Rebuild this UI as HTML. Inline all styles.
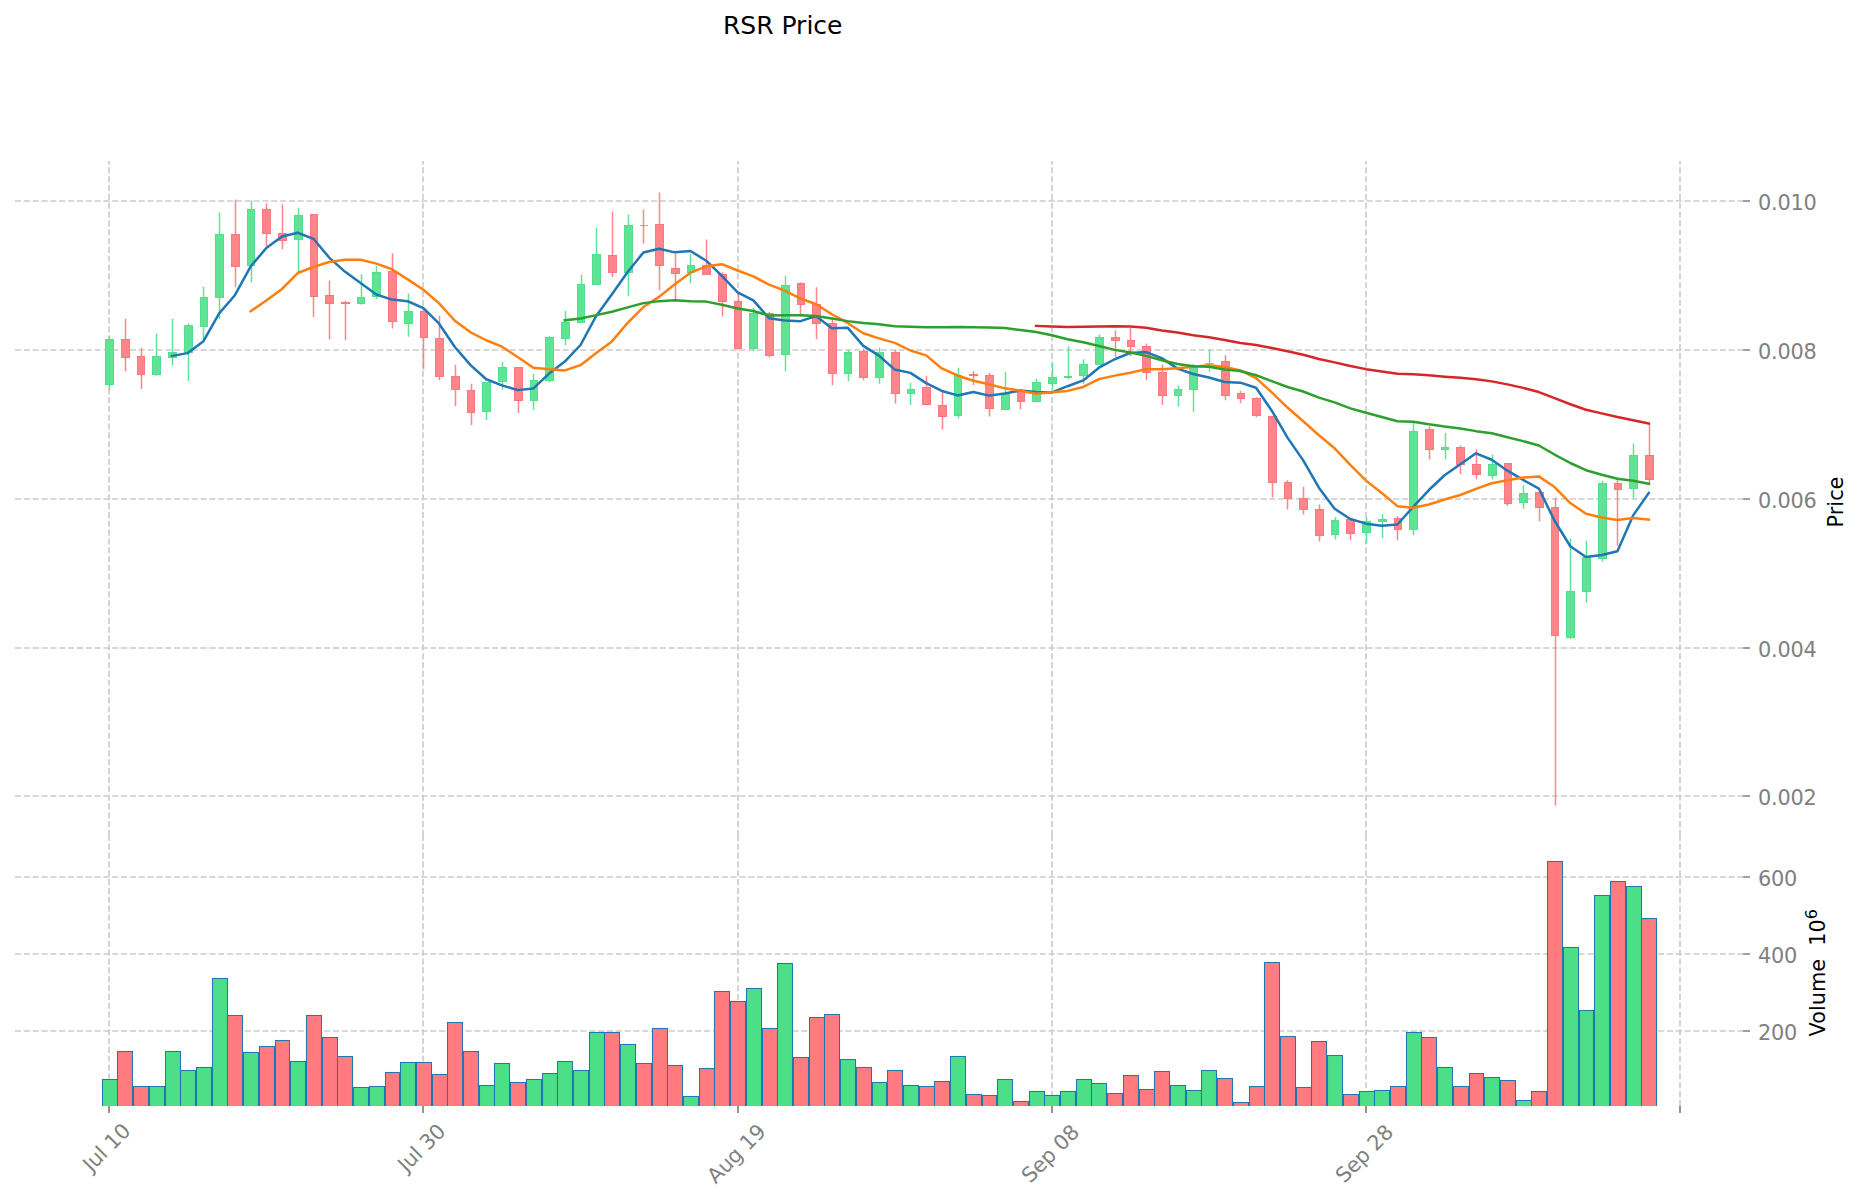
<!DOCTYPE html>
<html lang="en"><head><meta charset="utf-8"><title>RSR Price</title>
<style>.vg{fill:#4cdf87}.vr{fill:#ff7b80}html,body{margin:0;padding:0;background:#fff}body{width:1860px;height:1202px;overflow:hidden}</style>
</head><body>
<svg width="1860" height="1202" viewBox="0 0 1860 1202" style="display:block;font-family:'DejaVu Sans','Liberation Sans',sans-serif">
<rect width="1860" height="1202" fill="#fff"/>
<g fill="none" stroke="#cccccc" stroke-width="1.667" stroke-dasharray="6.1667 2.6667"><path d="M15 201 H1743"/><path d="M15 350 H1743"/><path d="M15 499 H1743"/><path d="M15 648 H1743"/><path d="M15 796 H1743"/><path d="M15 877 H1743"/><path d="M15 954 H1743"/><path d="M15 1031 H1743"/><path d="M109 836V161"/><path d="M109 1106V836"/><path d="M423 836V161"/><path d="M423 1106V836"/><path d="M738 836V161"/><path d="M738 1106V836"/><path d="M1052 836V161"/><path d="M1052 1106V836"/><path d="M1366 836V161"/><path d="M1366 1106V836"/><path d="M1680 836V161"/><path d="M1680 1106V836"/></g>
<clipPath id="vc"><rect x="0" y="800" width="1860" height="306"/></clipPath>
<g clip-path="url(#vc)" stroke="#1f77b4" stroke-width="1.04"><rect class="vg" x="102.5" y="1079.5" width="15" height="32.5"/><rect class="vr" x="117.5" y="1051.5" width="15" height="60.5"/><rect class="vr" x="133.5" y="1086.5" width="15" height="25.5"/><rect class="vg" x="149.5" y="1086.5" width="15" height="25.5"/><rect class="vg" x="165.5" y="1051.5" width="15" height="60.5"/><rect class="vg" x="180.5" y="1070.5" width="15" height="41.5"/><rect class="vg" x="196.5" y="1067.5" width="15" height="44.5"/><rect class="vg" x="212.5" y="978.5" width="15" height="133.5"/><rect class="vr" x="227.5" y="1015.5" width="15" height="96.5"/><rect class="vg" x="243.5" y="1052.5" width="15" height="59.5"/><rect class="vr" x="259.5" y="1046.5" width="15" height="65.5"/><rect class="vr" x="275.5" y="1040.5" width="14" height="71.5"/><rect class="vg" x="290.5" y="1061.5" width="15" height="50.5"/><rect class="vr" x="306.5" y="1015.5" width="15" height="96.5"/><rect class="vr" x="322.5" y="1037.5" width="15" height="74.5"/><rect class="vr" x="337.5" y="1056.5" width="15" height="55.5"/><rect class="vg" x="353.5" y="1087.5" width="15" height="24.5"/><rect class="vg" x="369.5" y="1086.5" width="15" height="25.5"/><rect class="vr" x="385.5" y="1072.5" width="14" height="39.5"/><rect class="vg" x="400.5" y="1062.5" width="15" height="49.5"/><rect class="vr" x="416.5" y="1062.5" width="15" height="49.5"/><rect class="vr" x="432.5" y="1074.5" width="15" height="37.5"/><rect class="vr" x="447.5" y="1022.5" width="15" height="89.5"/><rect class="vr" x="463.5" y="1051.5" width="15" height="60.5"/><rect class="vg" x="479.5" y="1085.5" width="15" height="26.5"/><rect class="vg" x="494.5" y="1063.5" width="15" height="48.5"/><rect class="vr" x="510.5" y="1082.5" width="15" height="29.5"/><rect class="vg" x="526.5" y="1079.5" width="15" height="32.5"/><rect class="vg" x="542.5" y="1073.5" width="15" height="38.5"/><rect class="vg" x="557.5" y="1061.5" width="15" height="50.5"/><rect class="vg" x="573.5" y="1070.5" width="15" height="41.5"/><rect class="vg" x="589.5" y="1032.5" width="15" height="79.5"/><rect class="vr" x="604.5" y="1032.5" width="15" height="79.5"/><rect class="vg" x="620.5" y="1044.5" width="15" height="67.5"/><rect class="vr" x="636.5" y="1063.5" width="15" height="48.5"/><rect class="vr" x="652.5" y="1028.5" width="15" height="83.5"/><rect class="vr" x="667.5" y="1065.5" width="15" height="46.5"/><rect class="vg" x="683.5" y="1096.5" width="15" height="15.5"/><rect class="vr" x="699.5" y="1068.5" width="15" height="43.5"/><rect class="vr" x="714.5" y="991.5" width="15" height="120.5"/><rect class="vr" x="730.5" y="1001.5" width="15" height="110.5"/><rect class="vg" x="746.5" y="988.5" width="15" height="123.5"/><rect class="vr" x="762.5" y="1028.5" width="15" height="83.5"/><rect class="vg" x="777.5" y="963.5" width="15" height="148.5"/><rect class="vr" x="793.5" y="1057.5" width="15" height="54.5"/><rect class="vr" x="809.5" y="1017.5" width="15" height="94.5"/><rect class="vr" x="824.5" y="1014.5" width="15" height="97.5"/><rect class="vg" x="840.5" y="1059.5" width="15" height="52.5"/><rect class="vr" x="856.5" y="1067.5" width="15" height="44.5"/><rect class="vg" x="872.5" y="1082.5" width="14" height="29.5"/><rect class="vr" x="887.5" y="1070.5" width="15" height="41.5"/><rect class="vg" x="903.5" y="1085.5" width="15" height="26.5"/><rect class="vr" x="919.5" y="1086.5" width="15" height="25.5"/><rect class="vr" x="934.5" y="1081.5" width="15" height="30.5"/><rect class="vg" x="950.5" y="1056.5" width="15" height="55.5"/><rect class="vr" x="966.5" y="1094.5" width="15" height="17.5"/><rect class="vr" x="982.5" y="1095.5" width="14" height="16.5"/><rect class="vg" x="997.5" y="1079.5" width="15" height="32.5"/><rect class="vr" x="1013.5" y="1101.5" width="15" height="10.5"/><rect class="vg" x="1029.5" y="1091.5" width="15" height="20.5"/><rect class="vg" x="1044.5" y="1095.5" width="15" height="16.5"/><rect class="vg" x="1060.5" y="1091.5" width="15" height="20.5"/><rect class="vg" x="1076.5" y="1079.5" width="15" height="32.5"/><rect class="vg" x="1091.5" y="1083.5" width="15" height="28.5"/><rect class="vr" x="1107.5" y="1093.5" width="15" height="18.5"/><rect class="vr" x="1123.5" y="1075.5" width="15" height="36.5"/><rect class="vr" x="1139.5" y="1089.5" width="15" height="22.5"/><rect class="vr" x="1154.5" y="1071.5" width="15" height="40.5"/><rect class="vg" x="1170.5" y="1085.5" width="15" height="26.5"/><rect class="vg" x="1186.5" y="1090.5" width="15" height="21.5"/><rect class="vg" x="1201.5" y="1070.5" width="15" height="41.5"/><rect class="vr" x="1217.5" y="1078.5" width="15" height="33.5"/><rect class="vr" x="1233.5" y="1102.5" width="15" height="9.5"/><rect class="vr" x="1249.5" y="1086.5" width="15" height="25.5"/><rect class="vr" x="1264.5" y="962.5" width="15" height="149.5"/><rect class="vr" x="1280.5" y="1036.5" width="15" height="75.5"/><rect class="vr" x="1296.5" y="1087.5" width="15" height="24.5"/><rect class="vr" x="1311.5" y="1041.5" width="15" height="70.5"/><rect class="vg" x="1327.5" y="1055.5" width="15" height="56.5"/><rect class="vr" x="1343.5" y="1094.5" width="15" height="17.5"/><rect class="vg" x="1359.5" y="1091.5" width="15" height="20.5"/><rect class="vg" x="1374.5" y="1090.5" width="15" height="21.5"/><rect class="vr" x="1390.5" y="1086.5" width="15" height="25.5"/><rect class="vg" x="1406.5" y="1032.5" width="15" height="79.5"/><rect class="vr" x="1421.5" y="1037.5" width="15" height="74.5"/><rect class="vg" x="1437.5" y="1067.5" width="15" height="44.5"/><rect class="vr" x="1453.5" y="1086.5" width="15" height="25.5"/><rect class="vr" x="1469.5" y="1073.5" width="14" height="38.5"/><rect class="vg" x="1484.5" y="1077.5" width="15" height="34.5"/><rect class="vr" x="1500.5" y="1080.5" width="15" height="31.5"/><rect class="vg" x="1516.5" y="1100.5" width="15" height="11.5"/><rect class="vr" x="1531.5" y="1091.5" width="15" height="20.5"/><rect class="vr" x="1547.5" y="861.5" width="15" height="250.5"/><rect class="vg" x="1563.5" y="947.5" width="15" height="164.5"/><rect class="vg" x="1579.5" y="1010.5" width="14" height="101.5"/><rect class="vg" x="1594.5" y="895.5" width="15" height="216.5"/><rect class="vr" x="1610.5" y="881.5" width="15" height="230.5"/><rect class="vg" x="1626.5" y="886.5" width="15" height="225.5"/><rect class="vr" x="1641.5" y="918.5" width="15" height="193.5"/></g>
<path d="M109.5 335.94V390.1M156.5 333.69V375.87M172.5 318.72V365.14M188.5 323.46V381.11M203.5 286.77V339.68M219.5 212.65V319.22M251.5 200.67V282.28M298.5 207.65V272.3M361.5 274.29V304.74M376.5 266.06V299.25M408.5 293.54V336.72M486.5 382.15V420.08M502.5 361.68V389.63M533.5 373.66V410.1M549.5 336.22V382.15M565.5 310.77V345.21M581.5 274.83V322.75M596.5 227.65V284.81M628.5 214.43V296.29M690.5 253.86V283.31M753.5 307.77V351.2M785.5 275.82V371.16M848.5 349.7V381.15M879.5 347.7V383.64M910.5 382.65V405.11M958.5 367.67V418.59M1005.5 371.66V409.6M1036.5 378.65V402.11M1052.5 362.85V389.3M1068.5 346.37V379.32M1083.5 359.35V383.81M1099.5 334.39V364.84M1178.5 385.31V406.77M1193.5 363.84V411.76M1209.5 349.87V371.83M1335.5 517.09V539.55M1366.5 517.29V543.74M1382.5 514.29V538.25M1413.5 422.45V535.26M1445.5 432.93V459.38M1492.5 454.39V479.35M1523.5 485.34V508.8M1570.5 538.75V639.08M1586.5 540.75V602.65M1602.5 480.85V561.71M1633.5 443.41V498.32" stroke="#5fe395" stroke-width="1.5" fill="none"/>
<g fill="#5fe395" stroke="#52e08c" stroke-width="1"><rect x="105.5" y="339.5" width="8" height="45"/><rect x="152.5" y="356.5" width="8" height="18"/><rect x="168.5" y="352.5" width="8" height="5"/><rect x="184.5" y="325.5" width="8" height="27"/><rect x="200.5" y="297.5" width="7" height="29"/><rect x="215.5" y="234.5" width="8" height="63"/><rect x="247.5" y="209.5" width="7" height="56"/><rect x="294.5" y="215.5" width="8" height="24"/><rect x="357.5" y="297.5" width="7" height="6"/><rect x="372.5" y="272.5" width="8" height="24"/><rect x="404.5" y="311.5" width="8" height="12"/><rect x="482.5" y="382.5" width="8" height="29"/><rect x="498.5" y="367.5" width="8" height="14"/><rect x="530.5" y="380.5" width="7" height="20"/><rect x="545.5" y="337.5" width="8" height="43"/><rect x="561.5" y="322.5" width="8" height="16"/><rect x="577.5" y="284.5" width="7" height="38"/><rect x="592.5" y="254.5" width="8" height="30"/><rect x="624.5" y="225.5" width="8" height="47"/><rect x="687.5" y="265.5" width="7" height="7"/><rect x="749.5" y="313.5" width="8" height="35"/><rect x="781.5" y="285.5" width="8" height="69"/><rect x="844.5" y="352.5" width="7" height="21"/><rect x="875.5" y="352.5" width="8" height="25"/><rect x="907.5" y="389.5" width="7" height="4"/><rect x="954.5" y="375.5" width="7" height="40"/><rect x="1001.5" y="393.5" width="8" height="16"/><rect x="1032.5" y="382.5" width="8" height="19"/><rect x="1048.5" y="377.5" width="8" height="6"/><rect x="1064.5" y="376.5" width="7" height="1"/><rect x="1079.5" y="364.5" width="8" height="11"/><rect x="1095.5" y="337.5" width="8" height="27"/><rect x="1174.5" y="389.5" width="7" height="6"/><rect x="1189.5" y="367.5" width="8" height="22"/><rect x="1331.5" y="520.5" width="7" height="14"/><rect x="1362.5" y="521.5" width="8" height="11"/><rect x="1378.5" y="519.5" width="8" height="2"/><rect x="1409.5" y="431.5" width="8" height="98"/><rect x="1441.5" y="447.5" width="7" height="2"/><rect x="1488.5" y="464.5" width="8" height="11"/><rect x="1519.5" y="493.5" width="8" height="9"/><rect x="1566.5" y="591.5" width="8" height="46"/><rect x="1582.5" y="557.5" width="8" height="34"/><rect x="1598.5" y="483.5" width="8" height="75"/><rect x="1629.5" y="455.5" width="8" height="33"/></g>
<path d="M1205 363.5H1214" stroke="#5fe395" stroke-width="1" fill="none"/>
<path d="M125.5 318.72V371.13M141.5 347.67V389.1M235.5 199.42V287.27M266.5 203.16V246.09M282.5 204.41V249.33M313.5 214.14V317.22M329.5 280.53V339.18M345.5 301V340.18M392.5 253.33V328.45M423.5 310.52V369.17M439.5 315.76V380.15M455.5 364.68V406.11M471.5 383.64V425.07M518.5 367.17V413.09M612.5 211.43V277.32M643.5 209.43V243.38M659.5 192.46V290.3M675.5 253.61V299.28M706.5 239.38V274.83M722.5 272.33V316.26M738.5 293.79V348.7M769.5 311.76V357.19M800.5 282.31V316.76M816.5 287.3V339.22M832.5 317.25V385.14M863.5 348.7V380.15M895.5 349.7V403.61M926.5 375.66V405.11M942.5 392.13V429.57M973.5 371.16V385.14M989.5 372.66V416.59M1020.5 389.63V409.6M1115.5 330.4V356.86M1130.5 327.9V356.36M1146.5 343.38V380.32M1162.5 364.84V404.78M1225.5 355.36V400.28M1240.5 390.8V403.28M1256.5 397.29V417.25M1272.5 416.26V497.62M1287.5 480.15V509.6M1303.5 486.64V514.59M1319.5 504.61V541.55M1350.5 518.29V540.25M1397.5 516.29V540.25M1429.5 426.44V459.38M1460.5 445.41V474.36M1476.5 449.4V479.35M1507.5 462.88V505.81M1539.5 491.83V521.28M1555.5 497.82V805.43M1617.5 478.85V545.74M1649.5 423.94V484.84" stroke="#ff858b" stroke-width="1.5" fill="none"/>
<g fill="#ff858b" stroke="#fd787e" stroke-width="1"><rect x="121.5" y="339.5" width="8" height="18"/><rect x="137.5" y="356.5" width="7" height="18"/><rect x="231.5" y="234.5" width="8" height="32"/><rect x="262.5" y="209.5" width="8" height="24"/><rect x="278.5" y="233.5" width="8" height="7"/><rect x="310.5" y="214.5" width="7" height="82"/><rect x="325.5" y="295.5" width="8" height="8"/><rect x="341.5" y="302.5" width="8" height="1"/><rect x="388.5" y="271.5" width="8" height="50"/><rect x="420.5" y="311.5" width="7" height="26"/><rect x="435.5" y="338.5" width="8" height="38"/><rect x="451.5" y="376.5" width="8" height="13"/><rect x="467.5" y="390.5" width="7" height="22"/><rect x="514.5" y="367.5" width="8" height="33"/><rect x="608.5" y="255.5" width="8" height="17"/><rect x="655.5" y="224.5" width="8" height="41"/><rect x="671.5" y="268.5" width="8" height="5"/><rect x="702.5" y="265.5" width="8" height="9"/><rect x="718.5" y="274.5" width="8" height="27"/><rect x="734.5" y="301.5" width="7" height="47"/><rect x="765.5" y="313.5" width="8" height="42"/><rect x="797.5" y="283.5" width="7" height="21"/><rect x="812.5" y="304.5" width="8" height="19"/><rect x="828.5" y="323.5" width="8" height="50"/><rect x="859.5" y="351.5" width="8" height="26"/><rect x="891.5" y="352.5" width="8" height="41"/><rect x="922.5" y="387.5" width="8" height="17"/><rect x="938.5" y="405.5" width="8" height="11"/><rect x="969.5" y="374.5" width="8" height="1"/><rect x="985.5" y="375.5" width="8" height="33"/><rect x="1017.5" y="391.5" width="7" height="10"/><rect x="1111.5" y="337.5" width="8" height="3"/><rect x="1127.5" y="340.5" width="7" height="6"/><rect x="1142.5" y="346.5" width="8" height="26"/><rect x="1158.5" y="372.5" width="8" height="23"/><rect x="1221.5" y="361.5" width="8" height="34"/><rect x="1237.5" y="393.5" width="7" height="5"/><rect x="1252.5" y="398.5" width="8" height="17"/><rect x="1268.5" y="416.5" width="8" height="66"/><rect x="1284.5" y="482.5" width="7" height="16"/><rect x="1299.5" y="498.5" width="8" height="11"/><rect x="1315.5" y="509.5" width="8" height="26"/><rect x="1346.5" y="519.5" width="8" height="14"/><rect x="1394.5" y="518.5" width="7" height="11"/><rect x="1425.5" y="429.5" width="8" height="20"/><rect x="1456.5" y="447.5" width="8" height="17"/><rect x="1472.5" y="464.5" width="8" height="10"/><rect x="1504.5" y="463.5" width="7" height="40"/><rect x="1535.5" y="492.5" width="8" height="15"/><rect x="1551.5" y="507.5" width="7" height="128"/><rect x="1614.5" y="483.5" width="7" height="6"/><rect x="1645.5" y="455.5" width="8" height="24"/></g>
<path d="M640 225.5H648" stroke="#ff858b" stroke-width="1" fill="none"/>
<polyline points="172.04 355.86 187.75 353.11 203.46 341.23 219.17 313.33 234.88 295.21 250.59 266.56 266.31 248.04 282.02 236.56 297.73 232.76 313.44 238.8 329.15 257.57 344.86 271.6 360.57 283.08 376.28 294.46 391.99 299.6 407.7 301.25 423.41 308.05 439.12 323.73 454.83 347.05 470.54 365.07 486.25 379.25 501.96 385.34 517.67 390.13 533.38 388.44 549.09 373.56 564.8 361.58 580.51 345.01 596.23 315.96 611.94 294.34 627.65 271.98 643.36 252.51 659.07 248.72 674.78 252.36 690.49 251.01 706.2 260.7 721.91 275.87 737.62 292.35 753.33 300.38 769.04 318.25 784.75 320.55 800.46 321.15 816.17 316.16 831.88 328.14 847.59 327.64 863.3 345.91 879.01 355.59 894.73 369.57 910.44 372.86 926.15 383.14 941.86 390.93 957.57 395.42 973.28 391.93 988.99 395.62 1004.7 393.53 1020.41 390.53 1036.12 392.03 1051.83 392.46 1067.54 386.21 1083.25 380.45 1098.96 367.7 1114.67 359.25 1130.38 352.96 1146.09 352.06 1161.8 358.15 1177.51 368.63 1193.22 374.03 1208.93 377.47 1224.65 382.06 1240.36 382.66 1256.07 387.75 1271.78 410.71 1287.49 437.62 1303.2 460.38 1318.91 487.74 1334.62 508.8 1350.33 519.02 1366.04 523.66 1381.75 525.69 1397.46 524.54 1413.17 506.81 1428.88 490.03 1444.59 475.26 1460.3 464.28 1476.01 453.29 1491.72 459.78 1507.43 470.67 1523.14 479.95 1538.86 488.54 1554.57 520.78 1570.28 546.24 1585.99 556.92 1601.7 554.92 1617.41 551.33 1633.12 515.39 1648.83 492.93" fill="none" stroke="#1f77b4" stroke-width="2.5" stroke-linejoin="round" stroke-linecap="square"/>
<polyline points="250.59 311.21 266.31 300.57 282.02 288.89 297.73 273.04 313.44 267 329.15 262.06 344.86 259.82 360.57 259.82 376.28 263.61 391.99 269.2 407.7 279.41 423.41 289.82 439.12 303.4 454.83 320.75 470.54 332.34 486.25 340.25 501.96 346.7 517.67 356.93 533.38 367.74 549.09 369.32 564.8 370.42 580.51 365.17 596.23 353.04 611.94 341.39 627.65 322.77 643.36 307.05 659.07 296.86 674.78 284.16 690.49 272.68 706.2 266.34 721.91 264.19 737.62 270.53 753.33 276.37 769.04 284.63 784.75 290.62 800.46 298.51 816.17 304.25 831.88 314.26 847.59 322.94 863.3 333.23 879.01 338.37 894.73 342.86 910.44 350.5 926.15 355.39 941.86 368.42 957.57 375.51 973.28 380.75 988.99 384.24 1004.7 388.34 1020.41 390.73 1036.12 393.73 1051.83 392.2 1067.54 390.91 1083.25 386.99 1098.96 379.12 1114.67 375.64 1130.38 372.71 1146.09 369.13 1161.8 369.3 1177.51 368.17 1193.22 366.64 1208.93 365.22 1224.65 367.06 1240.36 370.41 1256.07 378.19 1271.78 392.37 1287.49 407.55 1303.2 421.22 1318.91 435.2 1334.62 448.28 1350.33 464.87 1366.04 480.64 1381.75 493.04 1397.46 506.14 1413.17 507.8 1428.88 504.53 1444.59 499.46 1460.3 494.98 1476.01 488.91 1491.72 483.29 1507.43 480.35 1523.14 477.6 1538.86 476.41 1554.57 487.04 1570.28 503.01 1585.99 513.79 1601.7 517.44 1617.41 519.93 1633.12 518.09 1648.83 519.58" fill="none" stroke="#ff7f0e" stroke-width="2.5" stroke-linejoin="round" stroke-linecap="square"/>
<polyline points="564.8 320.34 580.51 318.52 596.23 315.11 611.94 311.73 627.65 307.37 643.36 303.12 659.07 301.13 674.78 300.3 690.49 301.34 706.2 301.62 721.91 304.67 737.62 308.51 753.33 310.94 769.04 315.59 784.75 315.24 800.46 315.27 816.17 315.94 831.88 318.45 847.59 321.12 863.3 322.96 879.01 324.33 894.73 326.19 910.44 326.64 926.15 327.14 941.86 327.27 957.57 327.02 973.28 327.29 988.99 327.55 1004.7 327.99 1020.41 330.1 1036.12 332.1 1051.83 335.2 1067.54 339.26 1083.25 342.34 1098.96 346.05 1114.67 349.89 1130.38 352.57 1146.09 355.88 1161.8 360.19 1177.51 364.04 1193.22 366.24 1208.93 366.76 1224.65 369.49 1240.36 370.93 1256.07 375.24 1271.78 381.17 1287.49 387 1303.2 391.53 1318.91 397.61 1334.62 402.39 1350.33 408.41 1366.04 412.68 1381.75 417.01 1397.46 421.18 1413.17 421.71 1428.88 424.18 1444.59 426.57 1460.3 428.45 1476.01 431.14 1491.72 433.25 1507.43 437.29 1523.14 441.15 1538.86 445.5 1554.57 454.53 1570.28 463 1585.99 470.23 1601.7 474.81 1617.41 478.71 1633.12 480.73 1648.83 483.72" fill="none" stroke="#2ca02c" stroke-width="2.5" stroke-linejoin="round" stroke-linecap="square"/>
<polyline points="1036.12 325.92 1051.83 326.56 1067.54 326.89 1083.25 326.73 1098.96 326.41 1114.67 326.2 1130.38 326.55 1146.09 327.79 1161.8 330.47 1177.51 332.53 1193.22 335.16 1208.93 337.33 1224.65 339.92 1240.36 342.96 1256.07 344.94 1271.78 347.92 1287.49 351.17 1303.2 354.69 1318.91 359.07 1334.62 362.38 1350.33 366.07 1366.04 369.14 1381.75 371.52 1397.46 373.86 1413.17 374.19 1428.88 375.3 1444.59 376.63 1460.3 377.7 1476.01 379.26 1491.72 381.37 1507.43 384.39 1523.14 387.87 1538.86 392.08 1554.57 398.13 1570.28 404.23 1585.99 409.76 1601.7 413.39 1617.41 417 1633.12 420.16 1648.83 423.58" fill="none" stroke="#d62728" stroke-width="2.5" stroke-linejoin="round" stroke-linecap="square"/>
<path d="M1743 201h7M1743 350h7M1743 499h7M1743 648h7M1743 796h7M1743 877h7M1743 954h7M1743 1031h7M109 1106v7M423 1106v7M738 1106v7M1052 1106v7M1366 1106v7M1680 1106v7" stroke="#808080" stroke-width="1.667" fill="none"/>
<g fill="#808080" font-size="20.83" letter-spacing="-0.2"><text x="1758" y="209.9">0.010</text><text x="1758" y="358.9">0.008</text><text x="1758" y="507.9">0.006</text><text x="1758" y="656.9">0.004</text><text x="1758" y="804.9">0.002</text><text x="1758" y="885.9">600</text><text x="1758" y="962.9">400</text><text x="1758" y="1039.9">200</text></g>
<g fill="#808080" font-size="20.83" letter-spacing="-0.2"><text transform="translate(106.2 1147.16) rotate(-45)" text-anchor="middle" y="7.6">Jul 10</text><text transform="translate(421.2 1147.46) rotate(-45)" text-anchor="middle" y="7.6">Jul 30</text><text transform="translate(736 1153.41) rotate(-45)" text-anchor="middle" y="7.6">Aug 19</text><text transform="translate(1050 1153.41) rotate(-45)" text-anchor="middle" y="7.6">Sep 08</text><text transform="translate(1364 1153.41) rotate(-45)" text-anchor="middle" y="7.6">Sep 28</text></g>
<text transform="translate(1842.8 502) rotate(-90)" text-anchor="middle" font-size="20.83" fill="#000">Price</text>
<text transform="translate(1825.4 972.7) rotate(-90)" text-anchor="middle" font-size="20.83" fill="#000" xml:space="preserve" style="white-space:pre">Volume  10<tspan dy="-8" font-size="16">6</tspan></text>
<text x="782.7" y="34.2" text-anchor="middle" font-size="25.0" fill="#000">RSR Price</text>
</svg>
</body></html>
